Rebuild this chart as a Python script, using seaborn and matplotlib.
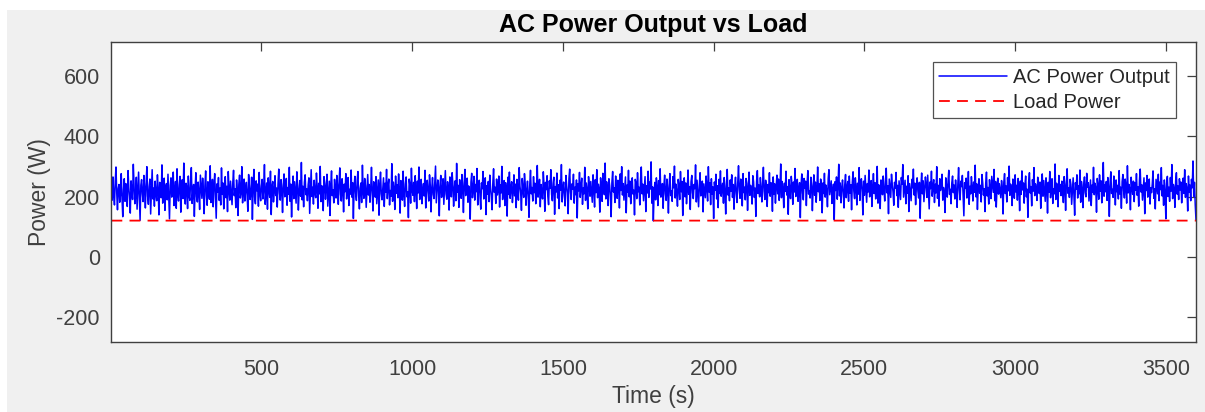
import numpy as np
import pandas as pd
import seaborn as sns
import matplotlib.pyplot as plt
from matplotlib.patches import Rectangle

# AC power output, one reading every 2.5 s (W)
sample_step_s = 2.5
ac_power_w = [
    231, 188, 265, 204, 172, 249, 298, 213, 156, 227, 240, 181, 207, 276, 195, 133, 222, 259, 184, 243,
    211, 167, 286, 230, 199, 145, 252, 218, 190, 307, 236, 176, 203, 264, 158, 224, 281, 197, 121, 238,
    256, 209, 183, 270, 226, 162, 245, 299, 201, 174, 233, 258, 142, 215, 289, 192, 228, 168, 251, 207,
    186, 272, 219, 139, 247, 233, 196, 305, 178, 212, 261, 154, 229, 243, 189, 274, 203, 126, 237, 262,
    198, 223, 281, 170, 214, 250, 161, 292, 206, 185, 239, 267, 148, 220, 256, 193, 311, 217, 175, 244,
    229, 160, 268, 202, 187, 253, 296, 177, 216, 240, 134, 225, 279, 199, 182, 248, 213, 157, 271, 232,
    194, 261, 218, 143, 236, 285, 205, 171, 249, 222, 191, 302, 180, 210, 257, 166, 238, 276, 199, 128,
    242, 215, 263, 187, 228, 172, 295, 207, 245, 159, 219, 266, 196, 234, 150, 283, 224, 188, 251, 210,
    173, 246, 287, 203, 226, 163, 255, 218, 137, 240, 271, 195, 212, 299, 179, 230, 258, 185, 222, 247,
    204, 151, 273, 236, 190, 215, 264, 124, 231, 290, 198, 176, 252, 219, 241, 168, 280, 209, 186, 235,
    257, 192, 227, 306, 174, 214, 245, 158, 262, 221, 197, 284, 140, 233, 250, 182, 217, 269, 203, 228,
    165, 243, 291, 211, 188, 256, 223, 147, 238, 275, 199, 216, 260, 171, 230, 208, 297, 184, 241, 132,
    226, 268, 193, 249, 214, 178, 282, 237, 155, 220, 253, 201, 313, 189, 234, 166, 247, 272, 206, 225,
    186, 239, 262, 144, 218, 289, 200, 231, 175, 254, 212, 196, 278, 227, 161, 244, 209, 300, 183, 236,
    219, 153, 266, 243, 191, 229, 274, 168, 210, 251, 137, 238, 285, 203, 222, 179, 257, 214, 195, 270,
    232, 174, 248, 295, 207, 185, 259, 225, 149, 241, 216, 276, 192, 233, 263, 170, 224, 208, 288, 198,
    246, 127, 235, 267, 211, 187, 252, 283, 202, 159, 228, 245, 180, 304, 217, 194, 260, 236, 164, 221,
    273, 205, 240, 181, 226, 297, 213, 152, 249, 230, 198, 266, 176, 218, 255, 138, 237, 281, 209, 189,
    228, 262, 167, 244, 214, 290, 193, 235, 258, 172, 220, 201, 309, 184, 248, 226, 157, 268, 211, 239,
    196, 275, 222, 145, 253, 231, 188, 284, 206, 167, 242, 265, 199, 216, 130, 258, 237, 178, 294, 219,
    204, 247, 183, 269, 225, 160, 251, 212, 298, 190, 234, 257, 176, 221, 243, 202, 287, 162, 229, 254,
    215, 185, 272, 238, 149, 226, 263, 207, 193, 246, 301, 179, 218, 255, 228, 136, 240, 270, 197, 213,
    259, 174, 233, 286, 208, 191, 249, 223, 155, 265, 217, 199, 279, 242, 168, 227, 252, 186, 310, 214,
    237, 164, 256, 211, 194, 273, 229, 147, 244, 290, 203, 220, 261, 181, 235, 210, 125, 248, 277, 196,
    223, 267, 188, 240, 216, 293, 172, 230, 254, 201, 158, 245, 226, 283, 192, 219, 262, 140, 236, 208,
    250, 183, 271, 227, 199, 156, 243, 292, 214, 231, 177, 258, 205, 222, 268, 165, 239, 212, 300, 190,
    232, 253, 170, 246, 219, 135, 264, 207, 281, 194, 228, 249, 180, 216, 272, 202, 241, 163, 257, 225,
    188, 296, 235, 211, 154, 260, 224, 197, 276, 242, 171, 218, 251, 204, 131, 238, 287, 209, 230, 185,
    266, 213, 244, 176, 229, 303, 198, 221, 257, 166, 240, 210, 192, 282, 236, 151, 247, 223, 269, 200,
    173, 252, 227, 289, 207, 186, 245, 264, 141, 233, 215, 278, 195, 239, 160, 254, 221, 306, 182, 226,
    248, 203, 169, 270, 236, 212, 143, 259, 291, 217, 190, 242, 225, 274, 178, 231, 206, 255, 129, 243,
    219, 280, 197, 234, 261, 174, 228, 209, 297, 187, 245, 222, 159, 266, 238, 201, 250, 214, 181, 272,
    230, 165, 256, 213, 289, 196, 241, 226, 148, 262, 218, 184, 277, 235, 206, 311, 192, 249, 224, 170,
    259, 237, 201, 133, 246, 283, 215, 229, 180, 268, 211, 194, 254, 239, 162, 275, 220, 299, 205, 243,
    188, 227, 265, 146, 238, 214, 287, 199, 251, 176, 233, 262, 208, 221, 139, 257, 244, 193, 279, 216,
    231, 172, 255, 298, 209, 241, 186, 224, 266, 150, 236, 212, 284, 197, 248, 225, 315, 178, 232, 119,
    214, 247, 189, 262, 231, 170, 253, 206, 292, 198, 225, 243, 161, 236, 271, 209, 187, 258, 222, 145,
    239, 276, 203, 218, 184, 266, 229, 301, 195, 241, 212, 168, 257, 234, 190, 283, 216, 250, 137, 228,
    262, 199, 245, 176, 220, 288, 207, 233, 157, 249, 270, 213, 193, 240, 226, 305, 182, 254, 211, 166,
    237, 279, 202, 224, 251, 149, 242, 218, 196, 268, 230, 185, 299, 215, 246, 173, 259, 208, 232, 127,
    248, 221, 274, 192, 236, 163, 257, 210, 285, 201, 227, 244, 178, 263, 219, 142, 238, 290, 205, 229,
    186, 255, 217, 272, 197, 240, 158, 233, 264, 211, 180, 247, 302, 223, 194, 258, 236, 169, 276, 213,
    231, 189, 260, 243, 154, 226, 281, 204, 237, 218, 175, 269, 249, 197, 228, 134, 252, 286, 210, 238,
    199, 263, 226, 182, 245, 297, 216, 190, 254, 232, 167, 240, 213, 279, 201, 246, 224, 151, 265, 207,
    242, 178, 235, 271, 209, 258, 187, 224, 308, 196, 250, 229, 163, 244, 217, 284, 205, 233, 141, 256,
    221, 193, 267, 238, 174, 248, 215, 293, 200, 231, 257, 184, 222, 246, 130, 239, 275, 212, 189, 260,
    227, 251, 170, 243, 286, 208, 219, 195, 264, 236, 153, 229, 272, 204, 248, 181, 223, 298, 216, 242,
    187, 258, 232, 146, 245, 210, 277, 198, 238, 221, 166, 260, 289, 206, 230, 252, 177, 214, 241, 123,
    249, 220, 265, 191, 234, 307, 202, 245, 179, 226, 255, 213, 162, 240, 273, 196, 228, 250, 184, 268,
    211, 239, 156, 247, 282, 218, 193, 262, 230, 172, 244, 208, 296, 187, 235, 259, 223, 139, 251, 204,
    270, 226, 181, 243, 215, 288, 199, 237, 253, 167, 231, 276, 210, 246, 192, 224, 300, 178, 239, 217,
    160, 255, 233, 206, 268, 221, 185, 249, 294, 212, 236, 143, 258, 227, 197, 274, 240, 216, 171, 247,
    228, 280, 203, 237, 164, 252, 219, 190, 263, 241, 306, 198, 225, 254, 176, 234, 211, 269, 150, 243,
    214, 186, 257, 229, 291, 205, 244, 173, 236, 262, 218, 195, 247, 128, 231, 278, 209, 252, 183, 226,
    265, 238, 197, 271, 215, 159, 248, 226, 284, 201, 233, 256, 180, 241, 212, 299, 194, 237, 168, 259,
    220, 243, 274, 188, 230, 210, 147, 262, 235, 198, 250, 287, 207, 224, 176, 245, 268, 213, 238, 192,
    255, 217, 164, 240, 296, 222, 189, 251, 233, 270, 203, 136, 246, 227, 261, 195, 219, 283, 174, 234,
    209, 266, 231, 185, 248, 214, 304, 199, 242, 157, 228, 259, 211, 237, 182, 273, 246, 205, 226, 150,
    244, 281, 202, 230, 175, 256, 220, 193, 267, 239, 214, 290, 186, 250, 165, 232, 261, 208, 243, 221,
    196, 253, 228, 142, 247, 276, 210, 235, 182, 263, 219, 301, 204, 241, 226, 170, 258, 231, 194, 272,
    215, 237, 188, 260, 229, 153, 251, 207, 285, 222, 245, 178, 236, 268, 199, 224, 131, 249, 279, 212,
    233, 169, 256, 218, 296, 203, 242, 226, 187, 264, 239, 210, 248, 161, 229, 275, 201, 253, 220, 184,
    262, 230, 145, 247, 214, 283, 196, 238, 259, 177, 225, 209, 308, 190, 244, 232, 166, 270, 217, 240,
    203, 251, 227, 180, 266, 235, 154, 243, 292, 211, 228, 197, 257, 240, 174, 219, 262, 206, 138, 246,
    224, 272, 195, 236, 209, 288, 181, 250, 226, 163, 241, 265, 213, 199, 277, 231, 246, 185, 222, 255,
    170, 238, 214, 297, 206, 244, 228, 148, 260, 235, 191, 272, 218, 252, 179, 233, 313, 201, 239, 216,
    250, 187, 263, 229, 134, 245, 282, 210, 224, 197, 268, 241, 172, 255, 216, 237, 192, 286, 208, 231,
    161, 249, 273, 219, 195, 258, 234, 178, 302, 212, 240, 225, 156, 264, 230, 207, 251, 183, 246, 221,
    276, 204, 232, 168, 254, 291, 215, 239, 188, 227, 262, 143, 245, 220, 270, 198, 236, 258, 175, 229,
    213, 242, 285, 194, 226, 159, 257, 233, 209, 274, 186, 248, 223, 296, 202, 237, 171, 255, 214, 126,
    244, 267, 200, 231, 184, 263, 218, 306, 193, 240, 227, 164, 252, 279, 208, 235, 190, 259, 222, 248,
    179, 236, 261, 210, 289, 197, 243, 225, 152, 268, 214, 238, 186, 257, 229, 318, 201, 247, 172, 121,
]
load_power_w = 120

x_ticks = [500, 1000, 1500, 2000, 2500, 3000, 3500]
y_ticks = [-200, 0, 200, 400, 600]

time_s = np.arange(1, len(ac_power_w) + 1) * sample_step_s
df = pd.DataFrame({"time": time_s, "ac": ac_power_w})
df["load"] = load_power_w

sns.set_theme(style="white")
plt.rcParams["font.family"] = ["Liberation Sans", "DejaVu Sans"]
plt.rcParams["axes.unicode_minus"] = False
grey = "#404040"

fig = plt.figure(figsize=(12.05, 4.12), dpi=100, facecolor="white")
fig.patches.append(Rectangle((7 / 1205, 0), 1, 1 - 10 / 412, transform=fig.transFigure,
                             facecolor="#f0f0f0", edgecolor="none", zorder=-10))
ax = fig.add_axes([111 / 1205, 1 - 342 / 412, 1085 / 1205, 300 / 412])
ax.set_facecolor("white")

sns.lineplot(data=df, x="time", y="ac", ax=ax, color=(0, 0, 1), linewidth=1.1,
             estimator=None, sort=False, label="AC Power Output")
sns.lineplot(data=df, x="time", y="load", ax=ax, color=(1, 0, 0), linewidth=1.3,
             estimator=None, label="Load Power", dashes=False)
ax.lines[1].set_dashes((6, 4))

ax.set_xlim(1, 3600)
ax.set_ylim(-283, 713)
ax.set_xticks(x_ticks)
ax.set_yticks(y_ticks)
ax.tick_params(direction="in", length=6.5, width=0.9, colors=grey, labelsize=15.5,
               top=True, right=True)
ax.tick_params(axis="x", pad=12)
ax.tick_params(axis="y", pad=8)
for s in ax.spines.values():
    s.set_color(grey)
    s.set_linewidth(1.0)

ax.set_title("AC Power Output vs Load", fontsize=18, fontweight="bold", color="black", pad=7)
ax.set_xlabel("Time (s)", fontsize=16.5, color=grey, labelpad=4)
ax.set_ylabel("Power (W)", fontsize=16.5, color=grey, labelpad=4)

leg = ax.legend(loc="upper right", fontsize=14.5, frameon=True, fancybox=False,
                handlelength=3.4, borderaxespad=1.0, borderpad=0.3, labelspacing=0.28,
                handletextpad=0.3)
leg.get_frame().set_edgecolor("#262626")
leg.get_frame().set_linewidth(0.9)
for t in leg.get_texts():
    t.set_color("#262626")

plt.savefig("out.png", dpi=100, facecolor=fig.get_facecolor())
